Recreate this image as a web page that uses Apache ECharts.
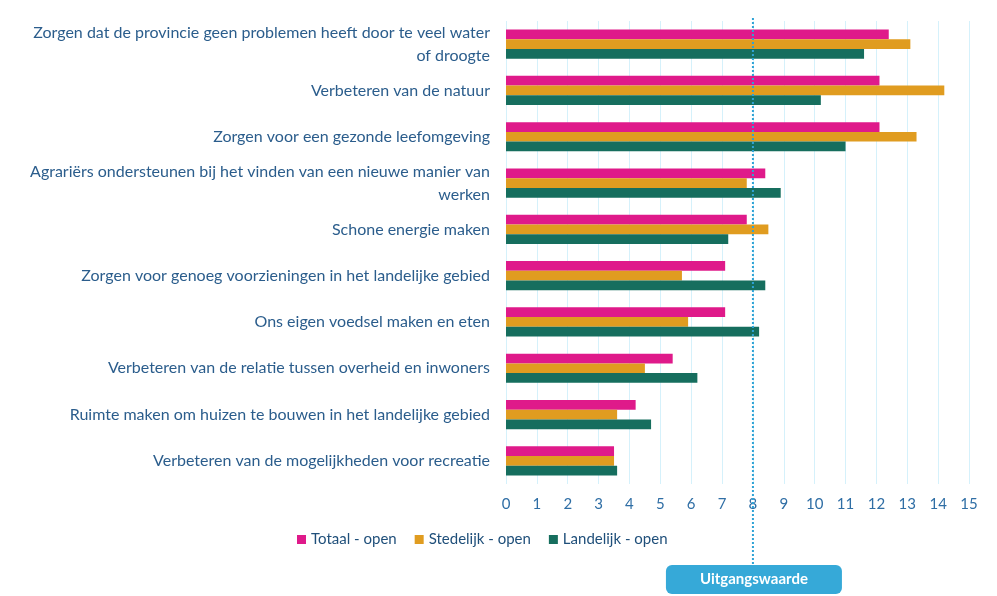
<!DOCTYPE html>
<html>
<head>
<meta charset="utf-8">
<script src="https://cdn.jsdelivr.net/npm/echarts@6/dist/echarts.min.js"></script>
<style>
    html, body { margin: 0; padding: 0; background: #fff; }
    #chart { width: 997px; height: 596px; }
</style>
</head>
<body>
<div id="chart"></div>
<script>
var categories = [
    'Zorgen dat de provincie geen problemen heeft door te veel water\nof droogte',
    'Verbeteren van de natuur',
    'Zorgen voor een gezonde leefomgeving',
    'Agrariërs ondersteunen bij het vinden van een nieuwe manier van\nwerken',
    'Schone energie maken',
    'Zorgen voor genoeg voorzieningen in het landelijke gebied',
    'Ons eigen voedsel maken en eten',
    'Verbeteren van de relatie tussen overheid en inwoners',
    'Ruimte maken om huizen te bouwen in het landelijke gebied',
    'Verbeteren van de mogelijkheden voor recreatie'
]
var seriesNames = ['Totaal - open', 'Stedelijk - open', 'Landelijk - open']
var totaal = [12.4, 12.1, 12.1, 8.4, 7.8, 7.1, 7.1, 5.4, 4.2, 3.5]
var stedelijk = [13.1, 14.2, 13.3, 7.8, 8.5, 5.7, 5.9, 4.5, 3.6, 3.5]
var landelijk = [11.6, 10.2, 11.0, 8.9, 7.2, 8.4, 8.2, 6.2, 4.7, 3.6]
var colors = ['#df1a8a', '#e09c20', '#166e5e']
var baseline = 8 // uitgangswaarde
var baselineLabel = 'Uitgangswaarde'

var chart = echarts.init(document.getElementById('chart'))

var barSeries = [totaal, stedelijk, landelijk].map(function (values, i) {
    return {
        name: seriesNames[i],
        type: 'bar',
        data: values,
        barGap: '0%',
        barCategoryGap: '37%',
        itemStyle: { color: colors[i] },
        emphasis: { disabled: true }
    }
})

chart.setOption({
    animation: false,
    color: colors,
    textStyle: { fontFamily: 'Lato' },
    grid: { left: 506, right: 28, top: 21, bottom: 112, containLabel: false },
    legend: {
        left: 292,
        top: 527,
        itemWidth: 9,
        itemHeight: 9,
        itemGap: 18,
        itemTextGap: 4,
        icon: 'rect',
        textStyle: { color: '#1f4f7a', fontSize: 15, fontFamily: 'Lato' },
        data: seriesNames
    },
    xAxis: {
        type: 'value',
        min: 0,
        max: 15,
        interval: 1,
        axisLine: { show: false },
        axisTick: { show: false },
        axisLabel: { color: '#2f6ea5', fontSize: 15, margin: 13 },
        splitLine: { show: true, lineStyle: { color: '#d5f1fb', width: 1 } }
    },
    yAxis: {
        type: 'category',
        data: categories,
        inverse: true,
        axisLine: { show: false },
        axisTick: { show: false },
        axisLabel: {
            color: '#2b5d8c',
            fontSize: 16,
            margin: 16,
            lineHeight: 23,
            align: 'right'
        },
        splitLine: { show: false }
    },
    series: barSeries
})

// uitgangswaarde lijn + knop, positie via de x-as
var px = chart.convertToPixel({ xAxisIndex: 0 }, baseline)
var btnW = 176,
    btnH = 29,
    btnTop = 565
chart.setOption({
    graphic: [
        {
            type: 'line',
            shape: { x1: px, y1: 18, x2: px, y2: btnTop },
            style: { stroke: '#2fa3d6', lineWidth: 2, lineDash: [2, 2] },
            z: 100
        },
        {
            type: 'rect',
            shape: { x: px - 87, y: btnTop, width: btnW, height: btnH, r: 6 },
            style: { fill: '#36a9d8' },
            z: 100
        },
        {
            type: 'text',
            x: px + 1,
            y: btnTop + btnH / 2,
            style: {
                text: baselineLabel,
                fill: '#fff',
                font: 'bold 15px Lato',
                align: 'center',
                verticalAlign: 'middle'
            },
            z: 101
        }
    ]
})
</script>
</body>
</html>
